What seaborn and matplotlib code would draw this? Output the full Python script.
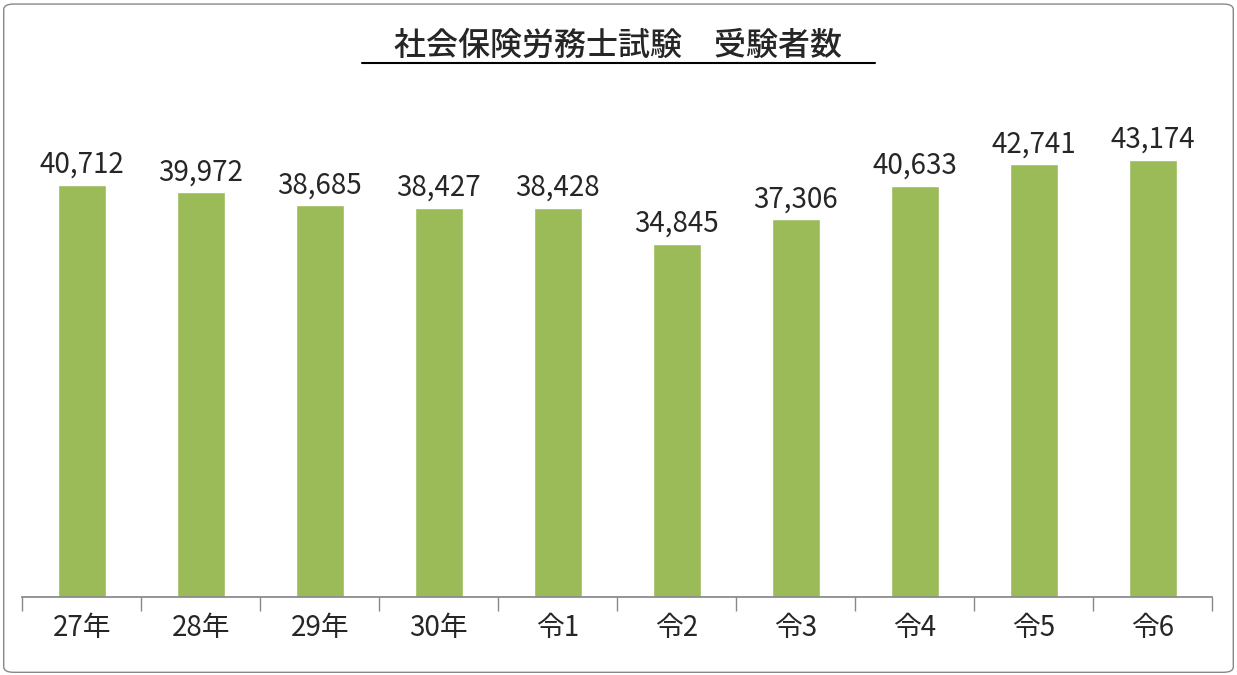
import matplotlib
matplotlib.use("Agg")
import matplotlib.pyplot as plt
import seaborn as sns
import pandas as pd
from matplotlib.lines import Line2D
from matplotlib.patches import FancyBboxPatch

years = ["27年", "28年", "29年", "30年", "令1", "令2", "令3", "令4", "令5", "令6"]
examinees = [40712, 39972, 38685, 38427, 38428, 34845, 37306, 40633, 42741, 43174]
title = "社会保険労務士試験　受験者数"

sns.set_theme(style="white")
plt.rcParams['font.family'] = ['Noto Sans CJK JP', 'DejaVu Sans']

df = pd.DataFrame({"year": years, "count": examinees})

fig = plt.figure(figsize=(12.37, 6.75), dpi=100)
ax = fig.add_axes([0.018, 0.116, 0.962, 0.751])
sns.barplot(data=df, x="year", y="count", color="#9BBB59", width=0.4,
            saturation=1, ax=ax)

for i, v in enumerate(examinees):
    ax.text(i, v + 500, f"{v:,}", ha="center", va="bottom", fontsize=20)

ax.set_ylim(0, 50100)
ax.set_xlim(-0.5, len(years) - 0.5)
ax.set_yticks([])
ax.set_xlabel("")
ax.set_ylabel("")
for s in ["top", "right", "left"]:
    ax.spines[s].set_visible(False)
ax.spines["bottom"].set_color("#888888")
ax.set_xticks([i - 0.5 for i in range(len(years) + 1)], minor=True)
ax.tick_params(axis="x", which="minor", length=10, color="#888888", bottom=True)
ax.tick_params(axis="x", which="major", length=0, labelsize=20, pad=12)

fig.text(0.5, 0.932, title, ha="center", va="center", fontsize=23, fontweight="medium")
fig.add_artist(Line2D([0.293, 0.707], [0.906, 0.906], color="black", lw=1.5))
fig.add_artist(FancyBboxPatch((0.003, 0.004), 0.994, 0.99,
                              boxstyle="round,pad=0,rounding_size=0.008",
                              transform=fig.transFigure, fill=False,
                              edgecolor="#888888", lw=1))

fig.savefig("out.png", dpi=100)
